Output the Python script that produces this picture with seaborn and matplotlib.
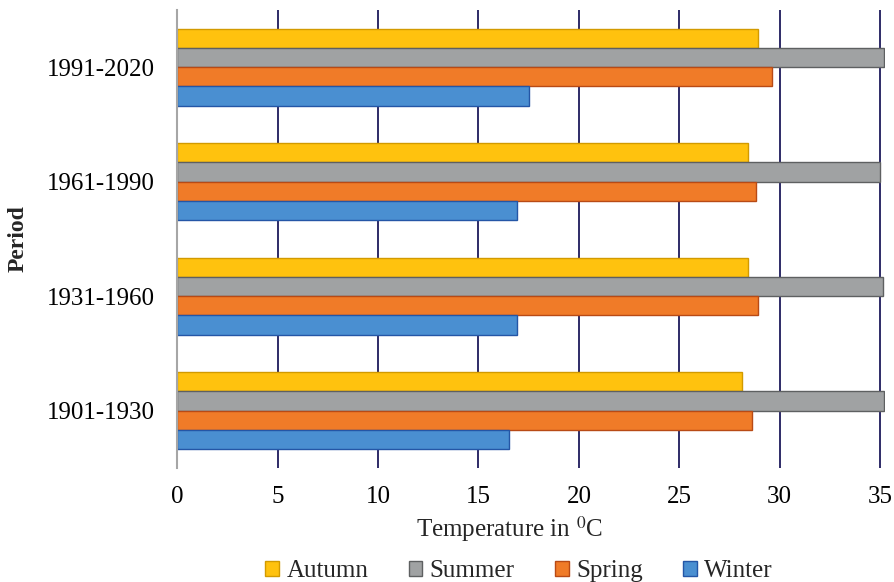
import pandas as pd
import matplotlib
matplotlib.use("Agg")
import matplotlib.pyplot as plt
import seaborn as sns

# Data
periods = ["1991-2020", "1961-1990", "1931-1960", "1901-1930"]
seasons = ["Autumn", "Summer", "Spring", "Winter"]
autumn = [28.9, 28.4, 28.4, 28.1]
summer = [35.2, 35.0, 35.15, 35.2]
spring = [29.6, 28.8, 28.9, 28.6]
winter = [17.5, 16.9, 16.9, 16.5]

fills = ["#FFC20E", "#A0A2A3", "#F07B28", "#4A8FD1"]
edges = ["#D29A00", "#5E6061", "#B84A15", "#2456A6"]

df = pd.DataFrame({
    "Period": periods * 4,
    "Season": [s for s in seasons for _ in periods],
    "Temperature": autumn + summer + spring + winter,
})

sns.set_theme(style="white")
plt.rcParams["font.family"] = ["Liberation Serif", "DejaVu Serif"]
plt.rcParams["mathtext.fontset"] = "stix"

fig, ax = plt.subplots(figsize=(8.95, 5.82), dpi=100)
fig.subplots_adjust(left=0.198, right=0.989, top=0.983, bottom=0.196)

sns.barplot(data=df, y="Period", x="Temperature", hue="Season",
            order=periods, hue_order=seasons, palette=fills,
            orient="h", width=0.67, saturation=1, ax=ax)

for cont, ec in zip(ax.containers, edges):
    for bar in cont:
        bar.set_edgecolor(ec)
        bar.set_linewidth(1.0)

ax.set_xlim(0, 35.25)
ax.set_ylim(3.5, -0.5)
ax.set_xticks(range(0, 36, 5))
for x in range(5, 36, 5):
    ax.axvline(x, color="#1E1A5C", lw=1.3, zorder=0)

for side in ["top", "right", "bottom"]:
    ax.spines[side].set_visible(False)
ax.spines["left"].set_color("#A6A6A6")
ax.spines["left"].set_linewidth(1.5)
ax.tick_params(axis="both", length=0, labelsize=18, colors="black")
ax.tick_params(axis="x", pad=13)
ax.tick_params(axis="y", pad=16)

ax.set_xlabel(r"Temperature in $^{0}$C", fontsize=18)
ax.xaxis.set_label_coords(0.47, -0.1)
ax.set_ylabel("Period", fontsize=17, fontweight="bold")
ax.yaxis.set_label_coords(-0.21, 0.5)

sns.move_legend(ax, "center", bbox_to_anchor=(0.58, 0.019),
                bbox_transform=fig.transFigure, ncol=4, frameon=False,
                title=None, fontsize=18, handlelength=0.55, handleheight=0.55,
                handletextpad=0.3, columnspacing=1.6, borderpad=0)
leg = ax.get_legend()
for h, ec in zip(leg.legend_handles, edges):
    h.set_edgecolor(ec)

fig.savefig("out.png", dpi=100)
